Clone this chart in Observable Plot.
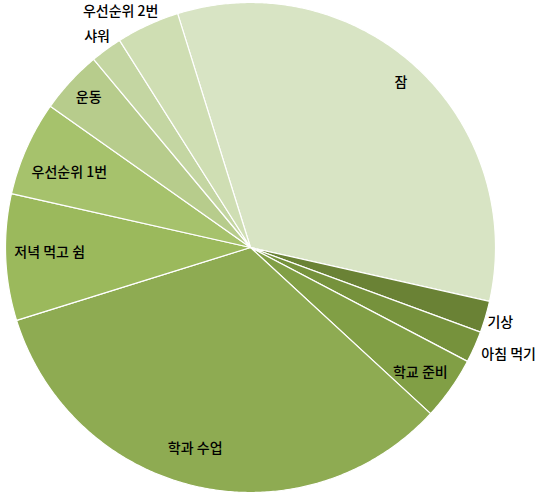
<!DOCTYPE html>
<html>
<head>
<meta charset="utf-8">
<script src="https://cdn.jsdelivr.net/npm/d3@7"></script>
<script src="https://cdn.jsdelivr.net/npm/@observablehq/plot@0.6"></script>
<style>
  html, body { margin: 0; padding: 0; background: #fff; }
  #chart svg { display: block; }
</style>
</head>
<body>
<div id="chart"></div>
<script>
const categories = ["잠", "기상", "아침 먹기", "학교 준비", "학과 수업", "저녁 먹고 쉼", "우선순위 1번", "운동", "샤워", "우선순위 2번"];
const hours = [8, 0.5, 0.5, 1, 8, 2, 1.5, 1, 0.5, 1];
const colors = ["#d8e4c4", "#6a8235", "#76923c", "#819f45", "#8eab52", "#9bb95c", "#a6c26c", "#b7cc8c", "#c4d6a2", "#cfdeb3"];
// label placement (style): radius factor and angular nudge in degrees
const labelRadius = [0.91, 1.065, 1.14, 0.86, 0.85, 0.82, 0.80, 0.90, 1.064, 1.10];
const labelNudge = [-0.3, 0.3, -1.5, 1.1, 2.7, 0.9, -1.5, 0.1, 0, -4];
const startAngleDeg = -17.3;

const pie = d3.pie().sort(null).value(d => d).startAngle(startAngleDeg * Math.PI / 180).endAngle((startAngleDeg + 360) * Math.PI / 180);
const arcs = pie(hours);

const polyPoints = [];
arcs.forEach((a, i) => {
  const cat = categories[i];
  polyPoints.push({cat, x: 0, y: 0});
  const n = Math.max(2, Math.ceil((a.endAngle - a.startAngle) / (0.5 * Math.PI / 180)));
  for (let k = 0; k <= n; k++) {
    const t = a.startAngle + (a.endAngle - a.startAngle) * k / n;
    polyPoints.push({cat, x: Math.sin(t), y: Math.cos(t)});
  }
  polyPoints.push({cat, x: 0, y: 0});
});

const labels = arcs.map((a, i) => {
  const m = (a.startAngle + a.endAngle) / 2 + labelNudge[i] * Math.PI / 180;
  return {cat: categories[i], x: Math.sin(m) * labelRadius[i], y: Math.cos(m) * labelRadius[i]};
});

const W = 540, H = 494, R = 245, cx = 250, cy = 247;
const chart = Plot.plot({
  width: W,
  height: H,
  margin: 0,
  style: {background: "#fff"},
  x: {domain: [-cx / R, (W - cx) / R], axis: null},
  y: {domain: [-(H - cy) / R, cy / R], axis: null},
  color: {domain: categories, range: colors},
  marks: [
    Plot.line(polyPoints, {x: "x", y: "y", z: "cat", fill: "cat", stroke: "#ffffff", strokeWidth: 1.2, curve: "linear"}),
    Plot.text(labels, {x: "x", y: "y", text: "cat", fill: "#000", fontSize: 14, fontFamily: "'Noto Sans CJK KR', sans-serif", fontWeight: 500, textAnchor: "middle"})
  ]
});
document.getElementById("chart").appendChild(chart);
</script>
</body>
</html>
